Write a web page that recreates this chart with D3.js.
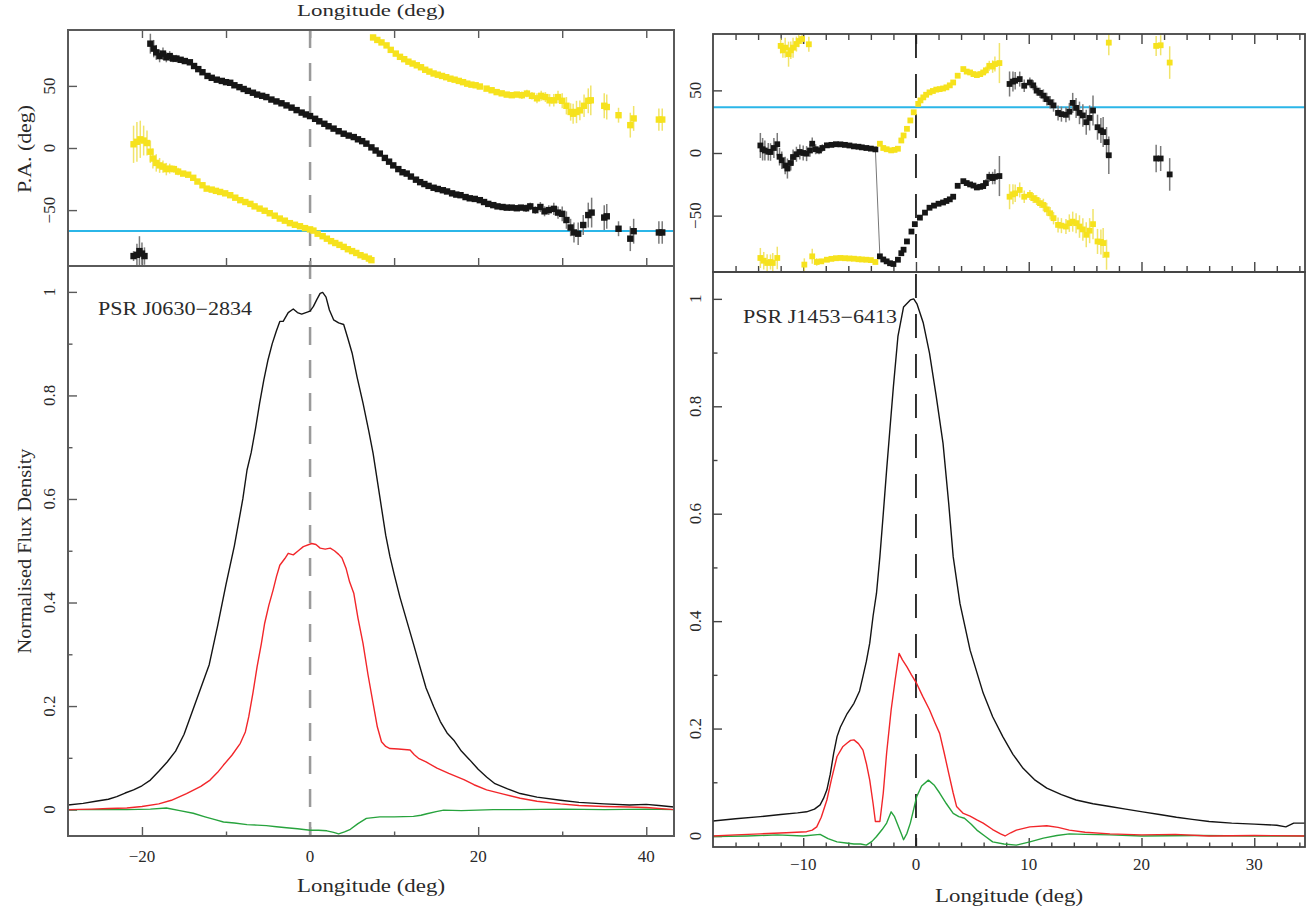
<!DOCTYPE html>
<html>
<head>
<meta charset="utf-8">
<script src="https://cdn.jsdelivr.net/npm/d3@7"></script>
<style>
  html, body { margin: 0; padding: 0; background: #fff; }
  svg { display: block; }
  text { font-family: "Liberation Serif", "DejaVu Serif", serif; fill: #2a2a2a; }
</style>
</head>
<body>
<svg id="chart" width="1307" height="913"></svg>
<script>
// ---------------- PSR J0630-2834 ----------------
// total intensity, linear and circular polarisation: [longitude, normalised flux]
const j0630I = [[-28.8,0.009],[-27,0.012],[-25.5,0.016],[-24,0.02],[-23,0.025],[-22,0.032],[-21,0.038],[-20,0.046],[-19,0.057],[-18,0.074],[-17,0.092],[-16,0.113],[-15,0.145],[-14,0.19],[-13,0.235],[-12,0.28],[-11,0.355],[-10,0.435],[-9,0.51],[-8,0.6],[-7.5,0.656],[-7,0.69],[-6.5,0.735],[-6,0.785],[-5.5,0.83],[-5,0.869],[-4.5,0.9],[-4,0.925],[-3.6,0.943],[-3.2,0.943],[-2.6,0.96],[-2,0.967],[-1.5,0.96],[-1,0.957],[-0.5,0.96],[0,0.963],[0.4,0.972],[0.8,0.985],[1.2,0.997],[1.5,0.999],[1.9,0.99],[2.3,0.965],[2.8,0.946],[3.4,0.94],[4,0.937],[4.5,0.91],[5,0.882],[5.6,0.835],[6.3,0.785],[7,0.73],[7.5,0.688],[8.3,0.604],[9,0.53],[9.5,0.489],[10,0.455],[10.7,0.41],[11.5,0.365],[12.3,0.32],[13,0.28],[13.8,0.235],[14.7,0.199],[15.5,0.17],[16.3,0.148],[17.1,0.134],[18,0.113],[19,0.096],[20,0.078],[21,0.063],[22,0.05],[23.5,0.04],[25,0.031],[27,0.024],[29.8,0.018],[32,0.014],[35,0.011],[38,0.009],[40,0.01],[41.5,0.008],[43.3,0.005]];
const j0630L = [[-28.8,0.0],[-26,0.001],[-24,0.002],[-21.8,0.003],[-20,0.006],[-18,0.011],[-16.5,0.018],[-14.7,0.031],[-13,0.045],[-11.9,0.057],[-11,0.072],[-10.3,0.086],[-9.3,0.105],[-8.3,0.128],[-7.7,0.15],[-7.3,0.179],[-6.8,0.225],[-6.3,0.276],[-5.8,0.32],[-5.4,0.36],[-4.9,0.395],[-4.4,0.424],[-4,0.45],[-3.6,0.472],[-3,0.485],[-2.6,0.495],[-2,0.492],[-1.4,0.5],[-0.8,0.508],[0.2,0.514],[0.7,0.512],[1.2,0.505],[1.8,0.503],[2.4,0.505],[2.9,0.5],[3.4,0.493],[3.8,0.486],[4.3,0.465],[4.7,0.44],[5.2,0.418],[5.7,0.37],[6.3,0.321],[6.9,0.26],[7.5,0.205],[8,0.16],[8.5,0.131],[9,0.122],[9.5,0.118],[10.5,0.117],[11.9,0.115],[12.4,0.106],[12.9,0.099],[13.8,0.092],[15.1,0.08],[16.5,0.07],[18.3,0.058],[19.5,0.048],[21,0.038],[23,0.03],[25,0.022],[27,0.016],[29.8,0.011],[32,0.008],[35,0.006],[38,0.005],[40,0.004],[43.3,0.0]];
const j0630V = [[-28.8,0.0],[-25,0.0],[-21.8,0.0],[-19,0.001],[-17.1,0.003],[-15.5,-0.002],[-13.9,-0.007],[-12.5,-0.014],[-11.2,-0.02],[-10.3,-0.024],[-9,-0.026],[-7.5,-0.029],[-6.3,-0.03],[-5.2,-0.031],[-4,-0.033],[-2.8,-0.035],[-1.5,-0.037],[0,-0.04],[1,-0.04],[2,-0.041],[2.8,-0.044],[3.4,-0.047],[4.1,-0.043],[4.8,-0.038],[5.7,-0.027],[6.7,-0.017],[8.3,-0.014],[10,-0.014],[12.3,-0.013],[13.2,-0.011],[13.9,-0.008],[15,-0.004],[15.9,-0.001],[18,-0.002],[21.8,0.0],[25,0.0],[30,0.001],[35,0.0],[40,0.001],[43.3,0.0]];
// position angle [longitude, PA, error] and the orthogonal-mode copy
const j0630PA = [[-21.0,-87,4],[-20.6,-86,9],[-20.3,-83,12],[-20.0,-85,9],[-19.7,-87,7],[-19.0,84,8],[-18.6,80,7],[-18.3,77,6],[-17.9,74,5],[-17.5,76,5],[-17.1,73,4],[-16.7,74,4],[-16.3,72,3],[-15.9,72,3],[-15.4,71,2],[-14.9,70,2],[-14.3,69,2],[-13.8,66,1.5],[-13.3,63.5,1.5],[-12.8,61,1.5],[-12.2,58,1.2],[-11.7,56.5,1],[-11.1,55,1],[-10.5,54,1],[-10.0,53,1],[-9.5,52.5,1],[-9.0,50.5,1],[-8.4,49,1],[-7.9,47.5,1],[-7.4,46,1],[-6.8,44.5,1],[-6.3,43,1],[-5.7,42,1],[-5.2,41,1],[-4.6,39,1],[-4.0,37.5,1],[-3.4,36,1],[-2.8,34.3,1],[-2.2,32.5,1],[-1.6,30.5,1],[-1.0,28.5,1],[-0.5,27,1],[0,25.7,1],[0.6,23.5,1],[1.1,21.5,1],[1.7,19.5,1],[2.2,17.5,1],[2.8,15.6,1],[3.4,13.5,1],[4.0,11.5,1],[4.6,10,1],[5.2,8.8,1],[5.7,7,1],[6.2,5.5,1],[6.7,3.5,1],[7.3,0.5,1],[7.8,-2,1],[8.3,-4.5,1],[8.9,-8,1],[9.4,-11,1],[9.9,-14,1],[10.5,-17,1],[11.0,-19.5,1],[11.5,-20.6,1],[12.0,-23,1],[12.6,-25.5,1],[13.1,-27.5,1],[13.6,-29,1],[14.1,-30.5,1],[14.7,-32,1],[15.2,-33,1],[15.8,-34,1],[16.3,-35,1],[16.9,-36.5,1],[17.4,-37.5,1],[17.9,-38,1],[18.5,-39.5,1],[19.0,-40.5,1],[19.6,-41,1],[20.2,-42,1.2],[20.7,-43.5,1.2],[21.2,-45,1.2],[21.8,-46,1.5],[22.3,-47,1.5],[22.9,-47.5,1.5],[23.4,-48,1.5],[24.0,-48,2],[24.6,-48.5,2],[25.1,-48,2],[25.7,-48.5,3],[26.2,-47,3],[26.8,-50,3],[27.4,-47.5,4],[27.9,-51,4],[28.4,-50,4],[29.0,-49,5],[29.5,-52,5],[30.0,-53,6],[30.5,-58,7],[31.0,-64,7],[31.4,-68,8],[31.9,-69,9],[32.5,-62,8],[33.1,-54,10],[33.5,-52,12],[35.0,-56,10],[35.3,-55,10],[36.7,-65,6],[38.1,-73,10],[38.5,-67,10],[41.5,-68,9],[41.9,-68,9]];
const j0630PAOrtho = [[-21.0,3,15],[-20.6,5,16],[-20.2,7,15],[-19.8,6,12],[-19.4,4,10],[-19.0,-3,9],[-18.7,-8.5,8],[-18.3,-12,7],[-17.9,-14,6],[-17.5,-15,5],[-17.1,-17,5],[-16.7,-16.6,4],[-16.2,-17,3],[-15.7,-19,3],[-15.1,-20.6,2],[-14.5,-21.5,2],[-13.9,-24,2],[-13.4,-27,1.5],[-12.8,-30,1.5],[-12.3,-32.7,1.5],[-11.7,-33.5,1],[-11.2,-34.5,1],[-10.7,-35.4,1],[-10.1,-36.5,1],[-9.5,-38,1],[-8.9,-40,1],[-8.3,-42,1],[-7.7,-43.5,1],[-7.1,-45,1],[-6.6,-47,1],[-6.0,-48.8,1],[-5.4,-50.5,1],[-4.8,-52.5,1],[-4.2,-54.5,1],[-3.6,-56.8,1],[-3.0,-58.5,1],[-2.4,-60.5,1],[-1.8,-61.8,1],[-1.2,-63,1],[-0.6,-64.5,1],[0,-65.5,1],[0.4,-66.5,1],[0.9,-69,1],[1.5,-71,1],[2.0,-73,1],[2.5,-75,1],[3.0,-76.5,1],[3.5,-78,1],[4.0,-79.6,1],[4.5,-81.5,1],[5.0,-83,1],[5.5,-84.5,1],[6.0,-86.3,1],[6.5,-87.5,1],[7.0,-89,1],[7.3,-90.3,1],[7.5,89,1],[8.0,87,1],[8.5,85,1],[9.1,82.6,1],[9.6,79,1],[10.2,76,1],[10.7,73.4,1],[11.2,71.5,1],[11.7,69.5,1],[12.2,68,1],[12.7,66.6,1],[13.2,65,1],[13.7,63,1],[14.2,61.5,1],[14.7,60,1],[15.2,59,1],[15.7,58,1],[16.2,57,1],[16.7,55.8,1],[17.2,55,1],[17.7,54,1],[18.2,53,1],[18.7,51.8,1],[19.2,51,1.2],[19.7,50.5,1.2],[20.2,49.5,1.2],[21.0,47.8,1.5],[21.6,46.5,1.5],[22.2,45,1.5],[22.8,44,1.5],[23.4,43,2],[24.0,42.5,2],[24.6,43,2],[25.2,42.5,3],[25.8,43.8,3],[26.4,42,3],[27.0,40,4],[27.5,42,4],[28.0,41,4],[28.5,38.4,5],[29.0,38.4,5],[29.5,41,5],[30.0,38,6],[30.5,34,7],[31.0,29,7],[31.3,27.6,8],[31.7,29,9],[32.1,30.3,8],[32.6,34,9],[33.1,38,10],[33.4,38.4,12],[35.0,34,10],[35.3,33,10],[36.7,26.4,6],[38.1,18.4,10],[38.5,23.8,10],[41.5,22.9,9],[41.9,22.9,9]];
const j0630RefPA = -66.8;
const j0630Name = "PSR J0630\u22122834";
const j0630LonTicks = [-20, 0, 20, 40];
const j0630LonMinor = [-10, 10, 30];
const j0630LonPATicks = [-20, -10, 0, 10, 20, 30, 40];

// ---------------- PSR J1453-6413 ----------------
const j1453I = [[-18,0.028],[-16,0.032],[-13.8,0.036],[-12,0.04],[-10.5,0.043],[-9.7,0.045],[-9,0.05],[-8.5,0.058],[-8.2,0.07],[-7.9,0.086],[-7.6,0.115],[-7.3,0.154],[-7,0.185],[-6.7,0.203],[-6.1,0.228],[-5.5,0.247],[-5,0.27],[-4.7,0.297],[-4.4,0.325],[-4.1,0.359],[-3.8,0.41],[-3.5,0.452],[-3.2,0.52],[-2.9,0.6],[-2.6,0.682],[-2.3,0.76],[-2,0.837],[-1.6,0.93],[-1.1,0.985],[-0.5,0.998],[-0.2,1.0],[0.1,0.99],[0.65,0.955],[1.2,0.899],[1.8,0.818],[2.4,0.731],[2.9,0.62],[3.3,0.52],[3.9,0.433],[4.8,0.346],[5.96,0.266],[6.8,0.222],[7.7,0.185],[8.6,0.152],[9.5,0.126],[10.5,0.105],[11.6,0.089],[12.9,0.077],[14.2,0.067],[15.7,0.06],[17.2,0.055],[18.6,0.05],[20.1,0.045],[21.6,0.04],[23.1,0.035],[24.5,0.031],[26,0.027],[28,0.024],[30,0.022],[32,0.02],[32.8,0.017],[33.5,0.024],[34.8,0.024]];
const j1453L = [[-18,0.0],[-16,0.002],[-13.8,0.004],[-11.5,0.006],[-9.7,0.008],[-9.2,0.011],[-8.8,0.017],[-8.4,0.035],[-7.9,0.067],[-7.5,0.105],[-7,0.148],[-6.5,0.166],[-6.1,0.173],[-5.8,0.178],[-5.5,0.179],[-5.1,0.172],[-4.7,0.16],[-4.4,0.135],[-4.1,0.104],[-3.8,0.06],[-3.6,0.027],[-3.2,0.027],[-2.9,0.08],[-2.6,0.155],[-2.2,0.235],[-1.85,0.29],[-1.5,0.34],[-1.2,0.328],[-0.8,0.315],[-0.4,0.3],[0.06,0.284],[0.6,0.26],[1.2,0.235],[1.7,0.21],[2.1,0.191],[2.5,0.155],[2.9,0.117],[3.3,0.08],[3.6,0.055],[4.2,0.042],[4.8,0.037],[5.4,0.03],[5.96,0.024],[6.8,0.012],[7.5,0.004],[7.9,0.0],[8.4,0.006],[8.9,0.011],[10.1,0.017],[11.6,0.019],[12.6,0.016],[13.6,0.011],[15,0.007],[17.2,0.004],[20,0.002],[23,0.003],[26,0.0],[30,0.001],[34.8,0.0]];
const j1453V = [[-18,-0.001],[-15,0.0],[-12.3,0.002],[-10,0.0],[-8.5,0.003],[-7.8,-0.005],[-7,-0.011],[-6.2,-0.013],[-5.5,-0.015],[-4.9,-0.015],[-4.4,-0.017],[-3.9,-0.01],[-3.5,-0.001],[-3,0.012],[-2.6,0.024],[-2.2,0.045],[-1.9,0.036],[-1.6,0.02],[-1.3,0.004],[-1.1,-0.007],[-0.8,0.005],[-0.5,0.024],[-0.2,0.05],[0.06,0.073],[0.5,0.093],[1.1,0.104],[1.6,0.095],[2.1,0.08],[2.7,0.06],[3.3,0.042],[3.8,0.036],[4.3,0.033],[4.9,0.022],[5.4,0.011],[6.1,0.0],[6.8,-0.011],[7.8,-0.015],[8.9,-0.017],[10.1,-0.011],[11.3,-0.004],[12.5,0.001],[13.6,0.004],[15,0.003],[17.2,0.002],[20,0.0],[25,0.001],[30,0.0],[34.8,0.0]];
const j1453PA = [[-13.8,6,10],[-13.6,3,9],[-13.4,2,8],[-13.1,1,7],[-12.9,0.8,7],[-12.6,4,8],[-12.3,7,9],[-12.1,-3,7],[-11.9,-5.8,7],[-11.6,-10,7],[-11.4,-12.4,8],[-11.1,-8,6],[-10.9,-3.2,6],[-10.6,-1,6],[-10.3,0.8,6],[-10.0,0,6],[-9.7,-0.5,6],[-9.4,2,5],[-9.2,7.4,5],[-8.9,3,4],[-8.6,2,3],[-8.3,4,3],[-7.9,6.1,2],[-7.5,6.5,1.5],[-7.1,7,1.5],[-6.7,6.9,1],[-6.3,6.5,1],[-5.9,6,1],[-5.5,5.3,1],[-5.1,5,1],[-4.8,4.5,1],[-4.4,4,1],[-4.0,3.5,1],[-3.6,2.9,1],[-3.2,-82.5,1],[-2.9,-85,1],[-2.6,-86.5,1],[-2.3,-88,1],[-2.0,-88.6,1],[-1.6,-85.2,1],[-1.3,-80,1],[-1.1,-77.2,1],[-0.8,-70.6,1],[-0.4,-62.7,1],[-0.1,-56.8,1],[0.35,-51.6,1],[0.8,-47.6,1],[1.2,-43.7,1],[1.6,-42,1],[2.0,-40.5,1],[2.4,-39.5,1],[2.7,-38.3,1],[3.0,-37,1],[3.3,-34.9,1],[3.7,-26.2,1.5],[4.2,-22.5,1.5],[4.5,-24,1.5],[4.8,-25.1,2],[5.1,-26,2],[5.4,-27.5,2],[5.7,-27,2],[5.96,-26.4,2],[6.2,-24,3],[6.5,-19,4],[6.8,-20,5],[7.0,-19,6],[7.4,-18.4,16],[8.3,55.1,10],[8.6,57,8],[8.8,57.7,7],[9.2,59,6],[9.6,53.7,5],[10.1,56.3,4],[10.4,54,4],[10.7,49.8,4],[11.0,48,4],[11.3,45.8,5],[11.6,43,5],[11.9,40.5,5],[12.2,38,5],[12.6,32,6],[12.9,31,6],[13.3,30.5,6],[13.6,33,7],[13.9,40,8],[14.2,36,8],[14.5,32,9],[14.8,30,9],[15.1,24.6,10],[15.4,28,10],[15.7,33.9,12],[16.1,20.6,10],[16.4,18,10],[16.6,16.7,12],[16.9,8.7,12],[17.1,-1.8,15],[21.3,-4.4,11],[21.7,-4.4,10],[22.5,-17.1,13]];
const j1453PAOrtho = [[-12.0,85.5,6],[-11.8,82,6],[-11.6,84.1,8],[-11.3,78.9,10],[-11.1,82,7],[-10.9,84.1,8],[-10.6,87,6],[-10.4,89.4,5],[-10.1,91,4],[-9.5,86.8,6],[-13.8,-83.8,8],[-13.5,-86,7],[-13.2,-87.8,7],[-12.9,-87,6],[-12.7,-87.8,8],[-12.3,-83.8,9],[-9.9,-89.1,5],[-9.2,-82.5,6],[-8.8,-87,3],[-8.4,-86.5,2],[-7.9,-85.2,1.5],[-7.5,-84.5,1],[-7.1,-84,1],[-6.7,-83.8,1],[-6.3,-84,1],[-5.9,-84.2,1],[-5.5,-84.4,1],[-5.1,-84.8,1],[-4.8,-85,1],[-4.4,-85.2,1],[-4.0,-85.5,1],[-3.6,-87,1],[-3.2,7.4,1],[-2.9,4,1],[-2.6,3,1],[-2.2,2.1,1],[-1.9,2.5,1],[-1.6,3.4,1],[-1.3,10,1],[-1.1,14,1],[-0.8,19.3,1],[-0.5,26,1],[-0.2,32.5,1],[0.2,39.2,1],[0.4,42,1],[0.65,44.4,1],[0.9,46.5,1],[1.2,48.4,1],[1.5,49.5,1],[1.8,50.6,1],[2.1,51,1],[2.4,51.5,1],[2.7,52.4,1],[3.0,54,1],[3.3,56.3,1],[3.7,61.7,1.5],[4.2,67,1.5],[4.5,65,1.5],[4.8,64.3,2],[5.1,63,2],[5.4,62.2,2],[5.7,63,2],[5.96,64.3,2],[6.2,66,3],[6.5,69.6,4],[6.8,69,5],[7.0,71,6],[7.4,71.8,16],[8.3,-34.9,10],[8.6,-33,8],[8.8,-32.2,7],[9.2,-29.5,6],[9.6,-34.9,5],[10.1,-33.5,4],[10.4,-36,4],[10.7,-37.5,4],[11.0,-40,4],[11.3,-41.5,5],[11.6,-45,5],[11.9,-48.1,5],[12.2,-52,5],[12.6,-57.4,6],[12.9,-58,6],[13.3,-58.7,6],[13.6,-56,7],[13.9,-54.8,8],[14.2,-56,8],[14.5,-58.7,9],[14.8,-61,9],[15.1,-65.3,10],[15.4,-62,10],[15.7,-56.8,12],[16.1,-70.6,10],[16.4,-71,10],[16.6,-71.9,12],[16.9,-81.2,12],[17.1,88.1,10],[21.3,85.5,8],[21.7,86,8],[22.5,72.2,13]];
// the 180-degree jump in the PA sweep is joined by a thin line
const j1453PAJump = [[-3.6,2.9],[-3.2,-82.5]];
const j1453RefPA = 36.5;
const j1453Name = "PSR J1453\u22126413";
const j1453LonTicks = [-10, 0, 10, 20, 30];
const j1453LonMinor = [-16,-14,-12,-8,-6,-4,-2,2,4,6,8,12,14,16,18,22,24,26,28,32,34];

// shared axis ticks
const fluxTicks = [0, 0.2, 0.4, 0.6, 0.8, 1];
const fluxMinor = [0.1, 0.3, 0.5, 0.7, 0.9];
const paTicks = [-50, 0, 50];
const paDomain = [-95, 95];

const svg = d3.select("#chart");
const defs = svg.append("defs");
const fmt = v => (v < 0 ? "\u2212" + Math.abs(v) : String(v));

function tickAxis(sel, axis, tr, color) {
  const g = sel.append("g").attr("transform", tr).call(axis);
  g.select(".domain").remove();
  g.selectAll("text").remove();
  g.selectAll("line").attr("stroke", color).attr("stroke-width", 1.4);
  return g;
}

function drawPanel(p) {
  const g = svg.append("g");
  const x = d3.scaleLinear().domain(p.lonDomain).range([p.left, p.right]);
  const yPA = d3.scaleLinear().domain(paDomain).range([p.paBottom, p.paTop]);
  const yF = d3.scaleLinear().domain(p.fluxDomain).range([p.fluxBottom, p.paBottom]);

  defs.append("clipPath").attr("id", p.id + "-pa").append("rect")
    .attr("x", p.left).attr("y", p.paTop).attr("width", p.right - p.left).attr("height", p.paBottom - p.paTop);
  defs.append("clipPath").attr("id", p.id + "-fl").append("rect")
    .attr("x", p.left).attr("y", p.paBottom).attr("width", p.right - p.left).attr("height", p.fluxBottom - p.paBottom);

  // ---- ticks (pointing inward) ----
  const ax = p.axisColor;
  tickAxis(g, d3.axisTop(x).tickValues(p.paLonTicks).tickSize(-p.paMajorLen), `translate(0,${p.paTop})`, ax);
  tickAxis(g, d3.axisBottom(x).tickValues(p.paLonTicks).tickSize(-p.paMajorLen), `translate(0,${p.paBottom})`, ax);
  if (p.paLonMinor) {
    tickAxis(g, d3.axisTop(x).tickValues(p.paLonMinor).tickSize(-6), `translate(0,${p.paTop})`, ax);
    tickAxis(g, d3.axisBottom(x).tickValues(p.paLonMinor).tickSize(-6), `translate(0,${p.paBottom})`, ax);
  }
  tickAxis(g, d3.axisLeft(yPA).tickValues(paTicks).tickSize(-9), `translate(${p.left},0)`, ax);
  tickAxis(g, d3.axisBottom(x).tickValues(p.lonTicks).tickSize(-9), `translate(0,${p.fluxBottom})`, ax);
  tickAxis(g, d3.axisBottom(x).tickValues(p.lonMinor).tickSize(-4.5), `translate(0,${p.fluxBottom})`, ax);
  tickAxis(g, d3.axisLeft(yF).tickValues(fluxTicks).tickSize(-9), `translate(${p.left},0)`, ax);
  tickAxis(g, d3.axisLeft(yF).tickValues(fluxMinor).tickSize(-4.5), `translate(${p.left},0)`, ax);

  // ---- reference lines ----
  g.append("line")
    .attr("x1", x(0)).attr("x2", x(0)).attr("y1", p.paTop).attr("y2", p.fluxBottom)
    .attr("stroke", p.dashColor).attr("stroke-width", p.dashWidth).attr("stroke-dasharray", p.dashArray);
  g.append("line")
    .attr("x1", p.left).attr("x2", p.right).attr("y1", yPA(p.refPA)).attr("y2", yPA(p.refPA))
    .attr("stroke", "#2bb6e8").attr("stroke-width", 2);

  // ---- position angles ----
  const paG = g.append("g").attr("clip-path", `url(#${p.id}-pa)`);
  if (p.jump) {
    paG.append("path").datum(p.jump)
      .attr("d", d3.line().x(d => x(d[0])).y(d => yPA(d[1])))
      .attr("fill", "none").attr("stroke", "#777").attr("stroke-width", 1);
  }
  const series = [
    { data: p.pa, err: "#7a7a7a", fill: "#161616" },
    { data: p.paOrtho, err: "#f1e46a", fill: "#f6e21d" }
  ];
  series.forEach(s => {
    paG.append("g").selectAll("line").data(s.data).join("line")
      .attr("x1", d => x(d[0])).attr("x2", d => x(d[0]))
      .attr("y1", d => yPA(d[1] - d[2])).attr("y2", d => yPA(d[1] + d[2]))
      .attr("stroke", s.err).attr("stroke-width", 1.5);
  });
  const ms = p.markerSize;
  series.forEach(s => {
    paG.append("g").selectAll("rect").data(s.data).join("rect")
      .attr("x", d => x(d[0]) - ms / 2).attr("y", d => yPA(d[1]) - ms / 2)
      .attr("width", ms).attr("height", ms).attr("fill", s.fill);
  });

  // ---- flux profiles ----
  const flG = g.append("g").attr("clip-path", `url(#${p.id}-fl)`);
  const line = d3.line().x(d => x(d[0])).y(d => yF(d[1]));
  [[p.V, "#27a33d"], [p.L, "#f2262a"], [p.I, "#141414"]].forEach(([data, c]) => {
    flG.append("path").datum(data).attr("d", line)
      .attr("fill", "none").attr("stroke", c).attr("stroke-width", 1.4).attr("stroke-linejoin", "round");
  });

  // ---- frames ----
  g.append("rect").attr("x", p.left).attr("y", p.paTop).attr("width", p.right - p.left).attr("height", p.paBottom - p.paTop)
    .attr("fill", "none").attr("stroke", ax).attr("stroke-width", p.frameWidth);
  g.append("rect").attr("x", p.left).attr("y", p.paBottom).attr("width", p.right - p.left).attr("height", p.fluxBottom - p.paBottom)
    .attr("fill", "none").attr("stroke", ax).attr("stroke-width", p.frameWidth);

  // ---- labels ----
  g.append("g").selectAll("text").data(fluxTicks).join("text")
    .attr("transform", d => `translate(${p.yLabelX},${yF(d)}) rotate(-90)`)
    .attr("text-anchor", "middle").attr("dominant-baseline", "central")
    .attr("font-size", 17).text(fmt);
  g.append("g").selectAll("text").data(paTicks).join("text")
    .attr("transform", d => `translate(${p.yLabelX},${yPA(d)}) rotate(-90)`)
    .attr("text-anchor", "middle").attr("dominant-baseline", "central")
    .attr("font-size", 17).text(fmt);
  g.append("g").selectAll("text").data(p.lonTicks).join("text")
    .attr("x", d => x(d)).attr("y", p.xLabelY)
    .attr("text-anchor", "middle").attr("dominant-baseline", "central")
    .attr("font-size", 17).text(fmt);
  g.append("text")
    .attr("x", (p.left + p.right) / 2 - 74).attr("y", p.titleY)
    .attr("textLength", 148).attr("lengthAdjust", "spacingAndGlyphs")
    .attr("font-size", 18).text("Longitude (deg)");
  g.append("text")
    .attr("x", p.nameX).attr("y", p.nameY)
    .attr("textLength", 154).attr("lengthAdjust", "spacingAndGlyphs")
    .attr("font-size", 18).text(p.name);
  return { x, yPA, yF };
}

drawPanel({
  id: "j0630", left: 68, right: 674, paTop: 30, paBottom: 266, fluxBottom: 836,
  lonDomain: [-28.8, 43.3], fluxDomain: [-0.051, 1.05],
  paLonTicks: j0630LonPATicks, paLonMinor: null, paMajorLen: 8,
  lonTicks: j0630LonTicks, lonMinor: j0630LonMinor, markerSize: 6.4,
  I: j0630I, L: j0630L, V: j0630V, pa: j0630PA, paOrtho: j0630PAOrtho, refPA: j0630RefPA,
  axisColor: "#5a5a5a", frameWidth: 2, dashColor: "#9a9a9a", dashWidth: 2.5, dashArray: "18,15",
  yLabelX: 49, xLabelY: 856, titleY: 892, name: j0630Name, nameX: 98, nameY: 315
});

drawPanel({
  id: "j1453", left: 713, right: 1305, paTop: 34, paBottom: 272, fluxBottom: 847,
  lonDomain: [-18, 34.5], fluxDomain: [-0.0205, 1.05],
  paLonTicks: j1453LonTicks, paLonMinor: j1453LonMinor, paMajorLen: 10,
  lonTicks: j1453LonTicks, lonMinor: j1453LonMinor, markerSize: 5.8,
  I: j1453I, L: j1453L, V: j1453V, pa: j1453PA, paOrtho: j1453PAOrtho, refPA: j1453RefPA, jump: j1453PAJump,
  axisColor: "#444", frameWidth: 1.8, dashColor: "#1e1e1e", dashWidth: 1.8, dashArray: "24,16",
  yLabelX: 695, xLabelY: 864, titleY: 902, name: j1453Name, nameX: 743, nameY: 323
});

// axis titles on the left
svg.append("text")
  .attr("transform", "translate(25,149) rotate(-90)")
  .attr("text-anchor", "middle").attr("dominant-baseline", "central")
  .attr("textLength", 88).attr("lengthAdjust", "spacingAndGlyphs")
  .attr("font-size", 18).text("P.A. (deg)");
svg.append("text")
  .attr("transform", "translate(25,551) rotate(-90)")
  .attr("text-anchor", "middle").attr("dominant-baseline", "central")
  .attr("textLength", 205).attr("lengthAdjust", "spacingAndGlyphs")
  .attr("font-size", 18).text("Normalised Flux Density");

// x title of the panel above this one, sitting at the top edge
svg.append("text")
  .attr("x", 371 - 74).attr("y", 16)
  .attr("textLength", 148).attr("lengthAdjust", "spacingAndGlyphs")
  .attr("font-size", 16).text("Longitude (deg)");
</script>
</body>
</html>
